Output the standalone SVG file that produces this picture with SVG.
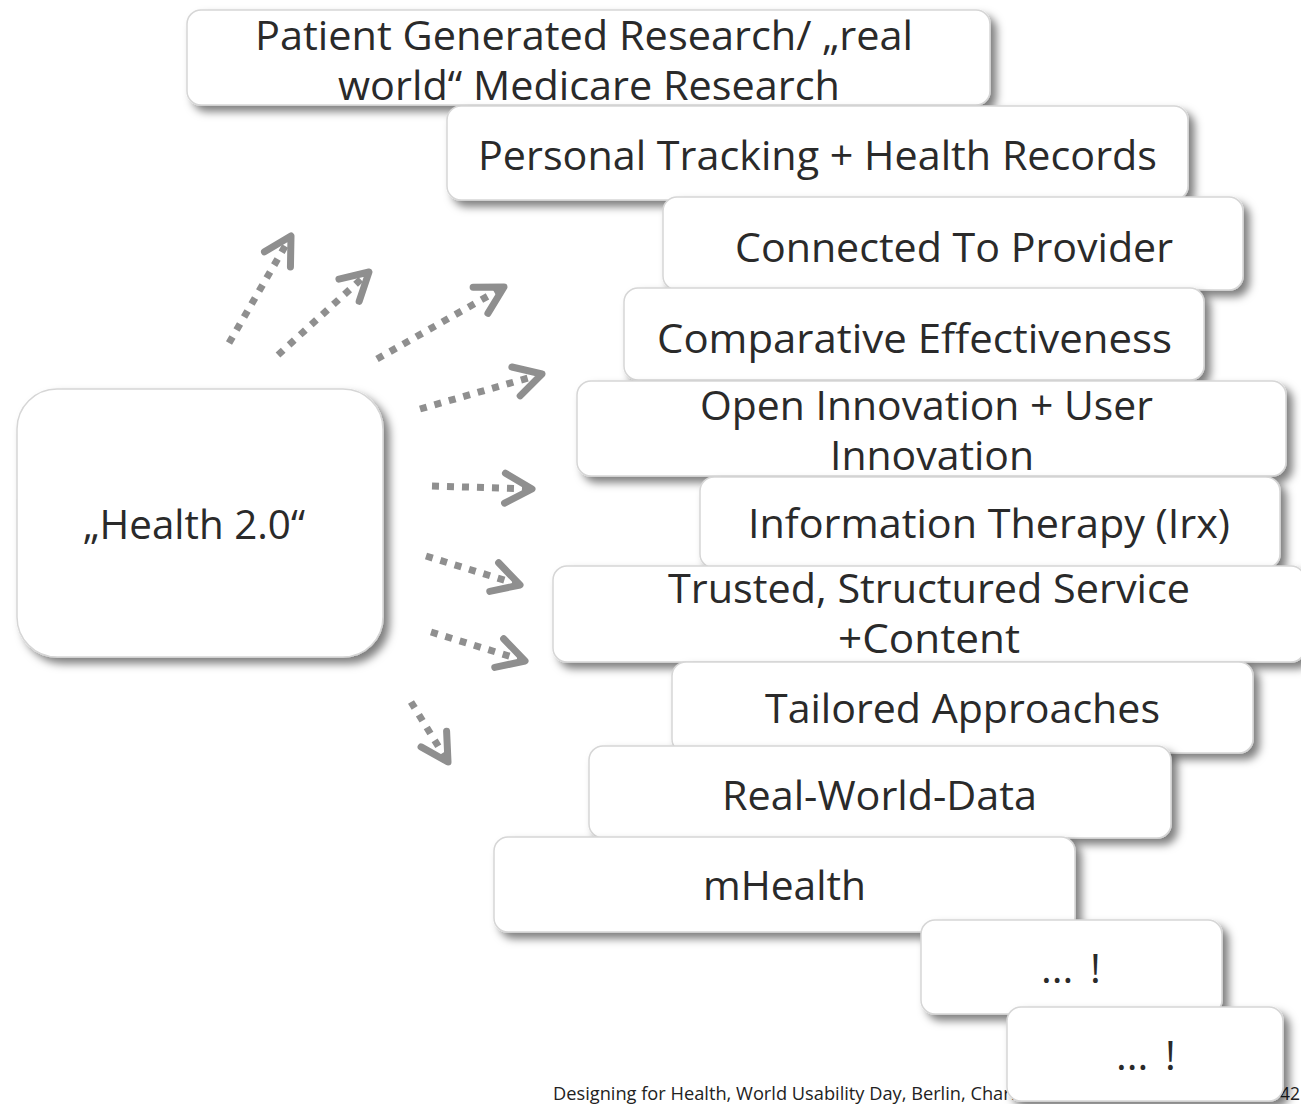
<svg xmlns="http://www.w3.org/2000/svg" width="1301" height="1104" viewBox="0 0 1301 1104">
<style>
.box{fill:#ffffff;stroke:#d6d6d6;stroke-width:1.5;filter:url(#sh)}
.t{font-family:"Open Sans","Noto Sans","DejaVu Sans",sans-serif;font-size:41px;fill:#2a2a2a;text-anchor:middle}
.tl{font-family:"Open Sans","Noto Sans","DejaVu Sans",sans-serif;font-size:41px;fill:#2a2a2a}
.foot{font-family:"Open Sans","Noto Sans","DejaVu Sans",sans-serif;font-size:17.5px;fill:#222222}
.dots{fill:none;stroke:#8f8f8f;stroke-width:7;stroke-dasharray:7 8;marker-end:url(#chev)}
.chevp{fill:none;stroke:#8f8f8f;stroke-width:7;stroke-linecap:round;stroke-linejoin:round}
</style>
<defs>
<filter id="sh" x="-10%" y="-20%" width="125%" height="150%">
<feDropShadow dx="6" dy="6" stdDeviation="4.5" flood-color="#000000" flood-opacity="0.5"/>
</filter>
<marker id="chev" markerUnits="userSpaceOnUse" orient="auto" overflow="visible" refX="0" refY="0" markerWidth="60" markerHeight="60">
<path class="chevp" d="M-27,-15 L0,0 L-27,15"/>
</marker>
</defs>
<rect width="1301" height="1104" fill="#ffffff"/>
<text class="foot" x="553" y="1100" textLength="479" lengthAdjust="spacingAndGlyphs">Designing for Health, World Usability Day, Berlin, Charité</text>
<text class="foot" x="1300" y="1100" text-anchor="end">42</text>
<g id="connectors">
<line class="dots" x1="229" y1="343" x2="291" y2="236"/>
<line class="dots" x1="278" y1="355" x2="369" y2="272"/>
<line class="dots" x1="377" y1="359" x2="504" y2="287"/>
<line class="dots" x1="420" y1="409" x2="542" y2="374"/>
<line class="dots" x1="432" y1="486" x2="532" y2="489"/>
<line class="dots" x1="426" y1="556" x2="520" y2="585"/>
<line class="dots" x1="431" y1="632" x2="525" y2="661"/>
<line class="dots" x1="411" y1="702" x2="448" y2="762"/>
</g>
<g id="health">
<rect class="box" x="17" y="389" width="366" height="268" rx="40"/>
<text class="t" x="194" y="539" textLength="222" lengthAdjust="spacingAndGlyphs">„Health 2.0“</text>
</g>
<g id="n1">
<rect class="box" x="187" y="10" width="803" height="95" rx="14"/>
<text class="t" x="584" y="50" textLength="658" lengthAdjust="spacingAndGlyphs">Patient Generated Research/ „real</text>
<text class="t" x="589" y="100" textLength="502" lengthAdjust="spacingAndGlyphs">world“ Medicare Research</text>
</g>
<g id="n2">
<rect class="box" x="447" y="106" width="741" height="94" rx="14"/>
<text class="t" x="817.5" y="170" textLength="679" lengthAdjust="spacingAndGlyphs">Personal Tracking + Health Records</text>
</g>
<g id="n3">
<rect class="box" x="663" y="197" width="580" height="93" rx="14"/>
<text class="t" x="954" y="262" textLength="438" lengthAdjust="spacingAndGlyphs">Connected To Provider</text>
</g>
<g id="n4">
<rect class="box" x="624" y="288" width="580" height="92" rx="14"/>
<text class="t" x="914.5" y="353" textLength="515" lengthAdjust="spacingAndGlyphs">Comparative Effectiveness</text>
</g>
<g id="n5">
<rect class="box" x="577" y="381" width="709" height="95" rx="14"/>
<text class="t" x="926.5" y="420" textLength="453" lengthAdjust="spacingAndGlyphs">Open Innovation + User</text>
<text class="t" x="932" y="470" textLength="204" lengthAdjust="spacingAndGlyphs">Innovation</text>
</g>
<g id="n6">
<rect class="box" x="700" y="477" width="580" height="91" rx="14"/>
<text class="t" x="989" y="538" textLength="482" lengthAdjust="spacingAndGlyphs">Information Therapy (Irx)</text>
</g>
<g id="n7">
<rect class="box" x="553" y="566" width="752" height="96" rx="14"/>
<text class="t" x="929" y="603" textLength="522" lengthAdjust="spacingAndGlyphs">Trusted, Structured Service</text>
<text class="t" x="929" y="653" textLength="182" lengthAdjust="spacingAndGlyphs">+Content</text>
</g>
<g id="n8">
<rect class="box" x="672" y="662" width="581" height="91" rx="14"/>
<text class="t" x="962.5" y="723" textLength="395" lengthAdjust="spacingAndGlyphs">Tailored Approaches</text>
</g>
<g id="n9">
<rect class="box" x="589" y="746" width="582" height="92" rx="14"/>
<text class="t" x="879.5" y="810" textLength="315" lengthAdjust="spacingAndGlyphs">Real-World-Data</text>
</g>
<g id="n10">
<rect class="box" x="494" y="837" width="581" height="95" rx="14"/>
<text class="t" x="784.5" y="900" textLength="163" lengthAdjust="spacingAndGlyphs">mHealth</text>
</g>
<g id="n11">
<rect class="box" x="921" y="920" width="301" height="94" rx="14"/>
<text class="tl" y="983"><tspan x="1041">...</tspan><tspan x="1090">!</tspan></text>
</g>
<g id="n12">
<rect class="box" x="1007" y="1007" width="276" height="94" rx="14"/>
<text class="tl" y="1070"><tspan x="1116">...</tspan><tspan x="1165">!</tspan></text>
</g>
</svg>
